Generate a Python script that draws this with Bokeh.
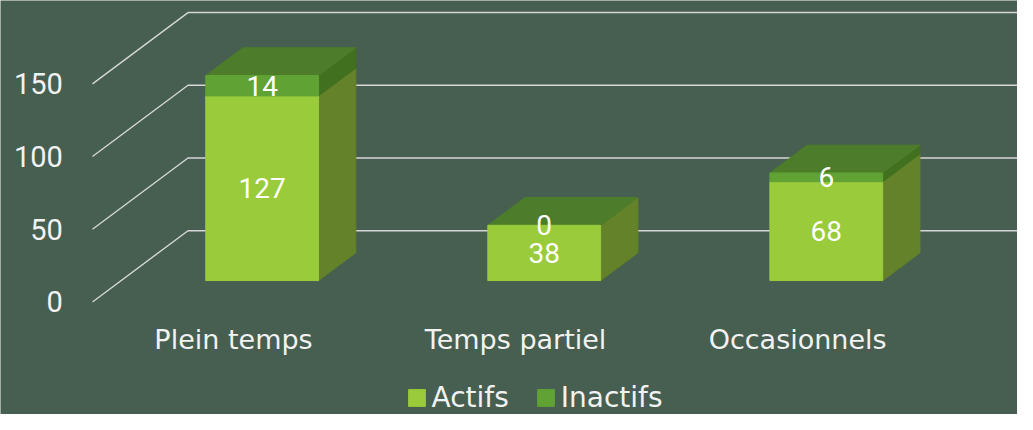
from bokeh.plotting import figure
from bokeh.models import ColumnDataSource, Range1d, Legend, LegendItem
from bokeh.embed import file_html
from bokeh.resources import INLINE
from bokeh.core.properties import value

# ---------------- data ----------------
categories = ["Plein temps", "Temps partiel", "Occasionnels"]
actifs = [127, 38, 68]
inactifs = [14, 0, 6]
series_names = ["Actifs", "Inactifs"]
y_ticks = [0, 50, 100, 150]

# ---------------- style ----------------
BG = "#465F50"
GRID = "#D6D6D6"
TXT = "#F2F2F2"
FRONT = ["#9ACB3A", "#60A234"]
SIDE = ["#63822A", "#41701F"]
TOP = "#4D7D2A"
NUMFONT = "Roboto"
TXTFONT = "DejaVu Sans"

W, H = 1017, 414
# oblique projection of depth z (0 = front, 1 = back wall)
DX = 0.3386      # x-units shift per unit depth
DY = 49.0        # value-units shift per unit depth
Z0, Z1 = 0.30, 0.69
HW = 0.20        # half width of a bar
WALL = -0.5

def proj(x, v, z):
    return x + z * DX, v + z * DY

def poly(pts):
    xs, ys = zip(*[proj(*p) for p in pts])
    return list(xs), list(ys)

p = figure(width=W, height=H, output_backend="svg", toolbar_location=None,
           x_range=Range1d(-0.8261, 2.7795), y_range=Range1d(-77.4, 207.3),
           x_axis_location=None, y_axis_location=None, min_border=0,
           background_fill_color=BG, border_fill_color=BG, outline_line_color=None)
p.grid.visible = False

# ---------------- gridlines (left wall + back wall) ----------------
gx, gy = [], []
for t in y_ticks:
    x0, y0 = proj(WALL, t, 0)
    x1, y1 = proj(WALL, t, 1)
    x2, y2 = proj(2.5 + 1.0, t, 1)
    gx.append([x0, x1, x2])
    gy.append([y0, y1, y2])
p.multi_line(xs=gx, ys=gy, line_color=GRID, line_width=1.4)

# y tick labels
tick_src = ColumnDataSource(dict(x=[WALL - 0.105] * len(y_ticks), y=y_ticks,
                                 t=[str(t) for t in y_ticks]))
p.text(x="x", y="y", text="t", source=tick_src, text_align="right",
       text_baseline="middle", text_color=TXT, text_font=value(NUMFONT),
       text_font_size="29px")

# ---------------- bars ----------------
stacks = [actifs, inactifs]
front = [dict(xs=[], ys=[]) for _ in stacks]
side = [dict(xs=[], ys=[]) for _ in stacks]
top = dict(xs=[], ys=[])
lab = dict(x=[], y=[], t=[])
for i in range(len(categories)):
    base = 0
    xl, xr = i - HW, i + HW
    for s, vals in enumerate(stacks):
        v0, v1 = base, base + vals[i]
        if v1 > v0:
            xs, ys = poly([(xl, v0, Z0), (xr, v0, Z0), (xr, v1, Z0), (xl, v1, Z0)])
            front[s]["xs"].append(xs); front[s]["ys"].append(ys)
            xs, ys = poly([(xr, v0, Z0), (xr, v0, Z1), (xr, v1, Z1), (xr, v1, Z0)])
            side[s]["xs"].append(xs); side[s]["ys"].append(ys)
        lx, ly = proj(i, (v0 + v1) / 2, Z0)
        lab["x"].append(lx); lab["y"].append(ly); lab["t"].append(str(vals[i]))
        base = v1
    xs, ys = poly([(xl, base, Z0), (xr, base, Z0), (xr, base, Z1), (xl, base, Z1)])
    top["xs"].append(xs); top["ys"].append(ys)

for s in range(len(stacks)):
    p.patches(xs="xs", ys="ys", source=ColumnDataSource(side[s]),
              fill_color=SIDE[s], line_color=SIDE[s], line_width=1)
p.patches(xs="xs", ys="ys", source=ColumnDataSource(top),
          fill_color=TOP, line_color=TOP, line_width=1)
front_r = []
for s in range(len(stacks)):
    r = p.patches(xs="xs", ys="ys", source=ColumnDataSource(front[s]),
                  fill_color=FRONT[s], line_color=FRONT[s], line_width=1)
    front_r.append(r)

p.text(x="x", y="y", text="t", source=ColumnDataSource(lab), text_align="center",
       text_baseline="middle", text_color="white", text_font=value(NUMFONT),
       text_font_size="28px")

# category labels
cat_src = ColumnDataSource(dict(x=list(range(len(categories))),
                                y=[-25.8] * len(categories), t=categories))
p.text(x="x", y="y", text="t", source=cat_src, text_align="center",
       text_baseline="middle", text_color=TXT, text_font=value(TXTFONT),
       text_font_size="27px")

# ---------------- legend ----------------
legend = Legend(items=[LegendItem(label=series_names[s], renderers=[front_r[s]])
                       for s in range(len(stacks))],
                orientation="horizontal", location=(405.5, 0),
                glyph_width=21, glyph_height=21, label_standoff=5, spacing=26,
                padding=0, margin=0, border_line_color=None,
                background_fill_alpha=0, label_text_color=TXT,
                label_text_font=TXTFONT, label_text_font_size="28px")
p.add_layout(legend)

open("out.html", "w").write(file_html(p, INLINE))
